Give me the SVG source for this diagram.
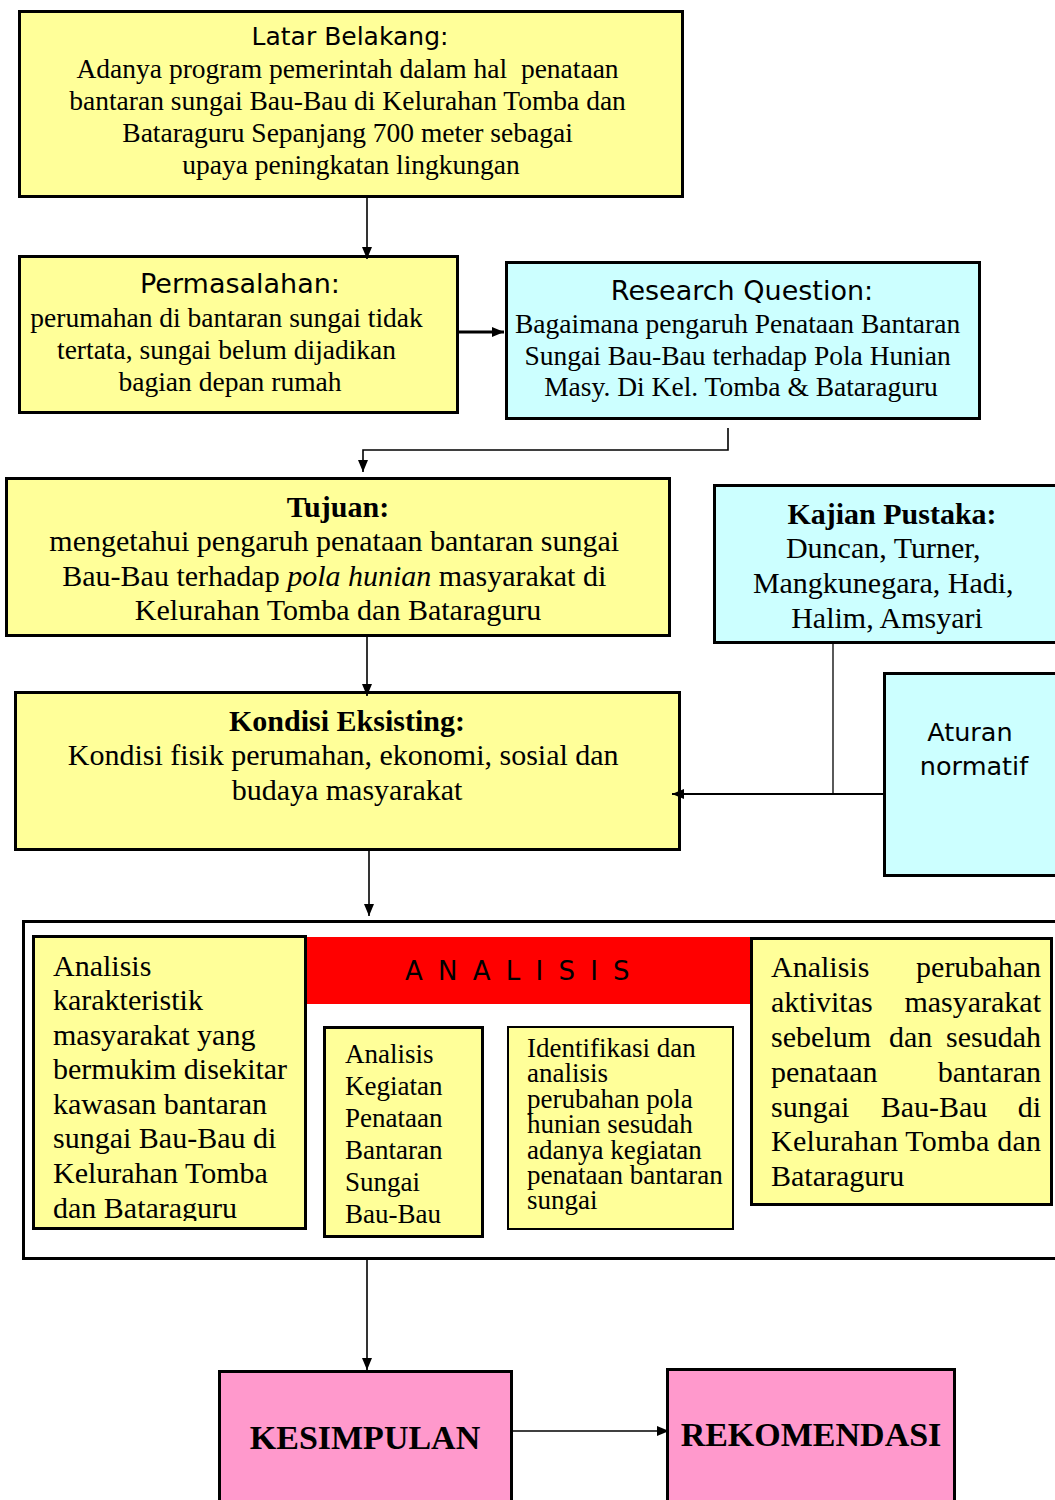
<svg xmlns="http://www.w3.org/2000/svg" width="1055" height="1500" viewBox="0 0 1055 1500">
  <defs>
    <marker id="arrow" markerUnits="userSpaceOnUse" markerWidth="12" markerHeight="12" viewBox="0 0 12 12" refX="12" refY="6" orient="auto">
      <path d="M0,1 L12,6 L0,11 Z" fill="#000"/>
    </marker>
    <clipPath id="clipLeft">
      <rect x="34" y="937" width="270" height="284"/>
    </clipPath>
  </defs>
  <style>
    .box { stroke: #000; stroke-width: 3; }
    .yellow { fill: #FFFF99; }
    .cyan { fill: #CCFFFF; }
    .pink { fill: #FF99CC; }
    .thin { stroke-width: 2; }
    .sans { font-family: "DejaVu Sans", Verdana, sans-serif; fill: #000; }
    .serif { font-family: "Liberation Serif", "Times New Roman", serif; fill: #000; }
    .bold { font-weight: bold; }
    .mid { text-anchor: middle; }
    .end { text-anchor: end; }
    .conn { fill: none; stroke: #000; stroke-width: 1.6; }
  </style>

  <rect width="1055" height="1500" fill="#fff"/>

  <!-- Latar Belakang -->
  <g id="latar-belakang">
    <rect class="box yellow" x="19.5" y="11.5" width="663" height="185"/>
    <text class="sans mid" x="350" y="45" font-size="25">Latar Belakang:</text>
    <text class="serif mid" font-size="27.5">
      <tspan x="351" y="78">Adanya program pemerintah dalam hal&#160; penataan</tspan>
      <tspan x="351" y="110">bantaran sungai Bau-Bau di Kelurahan Tomba dan</tspan>
      <tspan x="351" y="142">Bataraguru Sepanjang 700 meter sebagai</tspan>
      <tspan x="351" y="174">upaya peningkatan lingkungan</tspan>
    </text>
  </g>

  <!-- Permasalahan -->
  <g id="permasalahan">
    <rect class="box yellow" x="19.5" y="256.5" width="438" height="156"/>
    <text class="sans mid" x="240" y="293" font-size="27">Permasalahan:</text>
    <text class="serif mid" font-size="27.5">
      <tspan x="230" y="327">perumahan di bantaran sungai tidak</tspan>
      <tspan x="230" y="359">tertata, sungai belum dijadikan</tspan>
      <tspan x="230" y="391">bagian depan rumah</tspan>
    </text>
  </g>

  <!-- Research Question -->
  <g id="research-question">
    <rect class="box cyan" x="506.5" y="262.5" width="473" height="156"/>
    <text class="sans mid" x="742" y="300" font-size="27">Research Question:</text>
    <text class="serif mid" font-size="27.5">
      <tspan x="741" y="333">Bagaimana pengaruh Penataan Bantaran</tspan>
      <tspan x="741" y="365">Sungai Bau-Bau terhadap Pola Hunian</tspan>
      <tspan x="741" y="396">Masy. Di Kel. Tomba &amp; Bataraguru</tspan>
    </text>
  </g>

  <!-- Tujuan -->
  <g id="tujuan">
    <rect class="box yellow" x="6.5" y="478.5" width="663" height="157"/>
    <text class="serif bold mid" x="338" y="517" font-size="30">Tujuan:</text>
    <text class="serif mid" font-size="30">
      <tspan x="338" y="551">mengetahui pengaruh penataan bantaran sungai</tspan>
      <tspan x="338" y="586">Bau-Bau terhadap <tspan font-style="italic">pola hunian</tspan> masyarakat di</tspan>
      <tspan x="338" y="620">Kelurahan Tomba dan Bataraguru</tspan>
    </text>
  </g>

  <!-- Kajian Pustaka -->
  <g id="kajian-pustaka">
    <rect class="box cyan" x="714.5" y="485.5" width="360" height="157"/>
    <text class="serif bold mid" x="892" y="524" font-size="30">Kajian Pustaka:</text>
    <text class="serif mid" font-size="30">
      <tspan x="887" y="558">Duncan, Turner,</tspan>
      <tspan x="887" y="593">Mangkunegara, Hadi,</tspan>
      <tspan x="887" y="628">Halim, Amsyari</tspan>
    </text>
  </g>

  <!-- Aturan normatif -->
  <g id="aturan-normatif">
    <rect class="box cyan" x="884.5" y="673.5" width="190" height="202"/>
    <text class="sans mid" font-size="25.5">
      <tspan x="974" y="741">Aturan</tspan>
      <tspan x="974" y="775">normatif</tspan>
    </text>
  </g>

  <!-- Kondisi Eksisting -->
  <g id="kondisi-eksisting">
    <rect class="box yellow" x="15.5" y="692.5" width="664" height="157"/>
    <text class="serif bold mid" x="347" y="731" font-size="30">Kondisi Eksisting:</text>
    <text class="serif mid" font-size="30">
      <tspan x="347" y="765">Kondisi fisik perumahan, ekonomi, sosial dan</tspan>
      <tspan x="347" y="800">budaya masyarakat</tspan>
    </text>
  </g>

  <!-- Analisis frame -->
  <g id="analisis">
    <rect x="23.5" y="921.5" width="1060" height="337" fill="#fff" stroke="#000" stroke-width="3"/>
    <rect x="306" y="937" width="445" height="67" fill="#FF0000"/>
    <text class="sans mid" x="519" y="980" font-size="26" letter-spacing="3.5">A N A L I S I S</text>
  </g>

  <!-- Analisis karakteristik -->
  <g id="analisis-karakteristik">
    <rect class="box yellow" x="33.5" y="936.5" width="272" height="292"/>
    <text class="serif" font-size="30" clip-path="url(#clipLeft)">
      <tspan x="53" y="976">Analisis</tspan>
      <tspan x="53" y="1010">karakteristik</tspan>
      <tspan x="53" y="1045">masyarakat yang</tspan>
      <tspan x="53" y="1079">bermukim disekitar</tspan>
      <tspan x="53" y="1114">kawasan bantaran</tspan>
      <tspan x="53" y="1148">sungai Bau-Bau di</tspan>
      <tspan x="53" y="1183">Kelurahan Tomba</tspan>
      <tspan x="53" y="1218">dan Bataraguru</tspan>
    </text>
  </g>

  <!-- Analisis kegiatan -->
  <g id="analisis-kegiatan">
    <rect class="box yellow" x="324.5" y="1027.5" width="158" height="209"/>
    <text class="serif" font-size="27">
      <tspan x="345" y="1063">Analisis</tspan>
      <tspan x="345" y="1095">Kegiatan</tspan>
      <tspan x="345" y="1127">Penataan</tspan>
      <tspan x="345" y="1159">Bantaran</tspan>
      <tspan x="345" y="1191">Sungai</tspan>
      <tspan x="345" y="1223">Bau-Bau</tspan>
    </text>
  </g>

  <!-- Identifikasi perubahan pola hunian -->
  <g id="identifikasi">
    <rect class="box yellow thin" x="508" y="1027" width="225" height="202"/>
    <text class="serif" font-size="27">
      <tspan x="527" y="1057">Identifikasi dan</tspan>
      <tspan x="527" y="1082">analisis</tspan>
      <tspan x="527" y="1108">perubahan pola</tspan>
      <tspan x="527" y="1133">hunian sesudah</tspan>
      <tspan x="527" y="1159">adanya kegiatan</tspan>
      <tspan x="527" y="1184">penataan bantaran</tspan>
      <tspan x="527" y="1209">sungai</tspan>
    </text>
  </g>

  <!-- Analisis perubahan aktivitas (justified lines) -->
  <g id="analisis-perubahan">
    <rect class="box yellow" x="751.5" y="938.5" width="300" height="266"/>
    <g class="serif" font-size="30">
      <text x="771" y="977">Analisis</text>
      <text class="end" x="1041" y="977">perubahan</text>
      <text x="771" y="1012">aktivitas</text>
      <text class="end" x="1041" y="1012">masyarakat</text>
      <text x="771" y="1047">sebelum</text>
      <text x="889" y="1047">dan</text>
      <text class="end" x="1041" y="1047">sesudah</text>
      <text x="771" y="1082">penataan</text>
      <text class="end" x="1041" y="1082">bantaran</text>
      <text x="771" y="1117">sungai</text>
      <text class="mid" x="934" y="1117">Bau-Bau</text>
      <text class="end" x="1041" y="1117">di</text>
      <text x="771" y="1151" textLength="270" lengthAdjust="spacing">Kelurahan Tomba dan</text>
      <text x="771" y="1186">Bataraguru</text>
    </g>
  </g>

  <!-- Kesimpulan -->
  <g id="kesimpulan">
    <rect class="box pink" x="219.5" y="1371.5" width="292" height="140"/>
    <text class="serif bold mid" x="365" y="1449" font-size="34">KESIMPULAN</text>
  </g>

  <!-- Rekomendasi -->
  <g id="rekomendasi">
    <rect class="box pink" x="667.5" y="1369.5" width="287" height="140"/>
    <text class="serif bold mid" x="811" y="1446" font-size="34">REKOMENDASI</text>
  </g>

  <!-- connectors, drawn last so arrowheads sit on top of box borders -->
  <g id="connectors">
    <path class="conn" d="M367,198 V259" marker-end="url(#arrow)"/>
    <path class="conn" d="M458,332 H504" style="stroke-width:3" marker-end="url(#arrow)"/>
    <path class="conn" d="M728,428 V450 H363 V472" marker-end="url(#arrow)"/>
    <path class="conn" d="M367,637 V696" marker-end="url(#arrow)"/>
    <path class="conn" d="M833,644 V795" style="stroke-width:1.3"/>
    <path class="conn" d="M883,794 H672" style="stroke-width:2" marker-end="url(#arrow)"/>
    <path class="conn" d="M369,851 V916" marker-end="url(#arrow)"/>
    <path class="conn" d="M367,1260 V1370" marker-end="url(#arrow)"/>
    <path class="conn" d="M513,1431 H669" marker-end="url(#arrow)"/>
  </g>
</svg>
